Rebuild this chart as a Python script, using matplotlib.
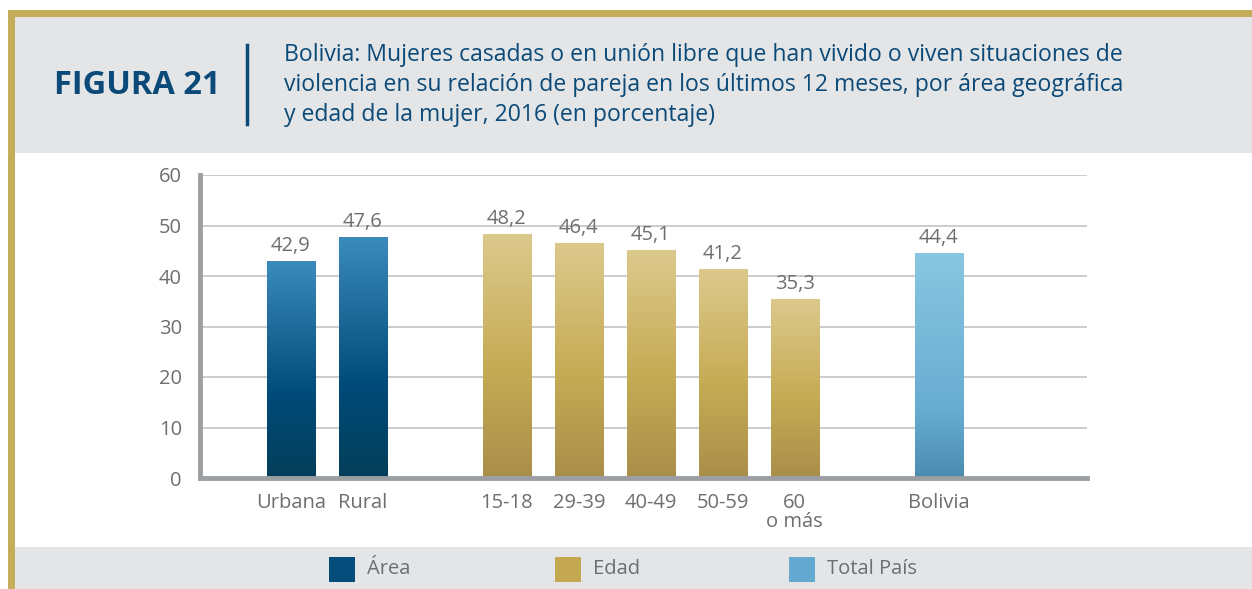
import numpy as np
import matplotlib
matplotlib.use('Agg')
import matplotlib.pyplot as plt
from matplotlib.patches import Rectangle
from matplotlib.colors import LinearSegmentedColormap

plt.rcParams['font.family'] = ['Open Sans', 'DejaVu Sans']

# data
labels = ['Urbana', 'Rural', '15-18', '29-39', '40-49', '50-59', '60\no más', 'Bolivia']
values = [42.9, 47.6, 48.2, 46.4, 45.1, 41.2, 35.3, 44.4]
groups = ['area', 'area', 'edad', 'edad', 'edad', 'edad', 'edad', 'total']
positions = [0, 1, 3, 4, 5, 6, 7, 9]

# gradients (top -> bottom)
grads = {
    'area': LinearSegmentedColormap.from_list('a', [(0, '#3b8bbd'), (0.62, '#004a78'), (1, '#043f5a')]),
    'edad': LinearSegmentedColormap.from_list('e', [(0, '#dcc98c'), (0.55, '#c6ab55'), (1, '#a98e4a')]),
    'total': LinearSegmentedColormap.from_list('t', [(0, '#89c7e0'), (0.7, '#68acd2'), (1, '#4b8cb0')]),
}
legend_items = [('Área', '#044c7a'), ('Edad', '#c4a851'), ('Total País', '#64aad0')]

gray_txt = '#6d6e70'
blue = '#0b4a78'
gold = '#c5ae5a'
panel = '#e4e5e7'

fig = plt.figure(figsize=(12.52, 5.89), dpi=100)
W, H = 1252.0, 589.0

def box(x0, y0, x1, y1, color):
    fig.add_artist(Rectangle((x0 / W, 1 - y1 / H), (x1 - x0) / W, (y1 - y0) / H,
                             transform=fig.transFigure, color=color, lw=0, zorder=0))

# frame and panels
box(15, 17, 1252, 153, panel)
box(15, 547, 1252, 589, panel)
box(8, 10, 1252, 17, gold)
box(8, 10, 15, 589, gold)

# header
fig.text(54 / W, 1 - 86 / H, 'FIGURA 21', fontsize=23.5, fontweight='bold', color=blue, va='center')
fig.add_artist(plt.Line2D([247 / W, 247 / W], [1 - 45 / H, 1 - 124 / H], color=blue, lw=2.5))
fig.text(284 / W, 1 - 85 / H,
         'Bolivia: Mujeres casadas o en unión libre que han vivido o viven situaciones de\n'
         'violencia en su relación de pareja en los últimos 12 meses, por área geográfica\n'
         'y edad de la mujer, 2016 (en porcentaje)',
         fontsize=16.6, color=blue, va='center', linespacing=1.33)

# axes
ax = fig.add_axes([200 / W, 1 - 478 / H, (1087 - 200) / W, (478 - 175) / H])
ax.set_facecolor('none')
width = 0.667
bars = ax.bar(positions, values, width=width, color='none', zorder=2)
grad = np.linspace(0, 1, 256).reshape(-1, 1)
for b, g in zip(bars, groups):
    x0 = b.get_x()
    ax.imshow(grad, cmap=grads[g], aspect='auto', zorder=2,
              extent=[x0, x0 + b.get_width(), 0, b.get_height()], origin='upper')
for p, v in zip(positions, values):
    ax.annotate(f'{v:.1f}'.replace('.', ','), (p, v), xytext=(0, 4), textcoords='offset points',
                ha='center', va='bottom', fontsize=14.5, color=gray_txt)

ax.set_xlim(-1.264, 11.06)
ax.set_ylim(0, 60)
ax.set_yticks(range(0, 61, 10))
ax.set_xticks(positions)
ax.set_xticklabels(labels, linespacing=0.9)
ax.grid(axis='y', color='#c8c8c8', lw=1.3, zorder=0)
ax.set_axisbelow(True)
ax.tick_params(length=0, labelsize=14.5, labelcolor=gray_txt)
ax.tick_params(axis='y', pad=13)
ax.tick_params(axis='x', pad=11)
for s in ['top', 'right']:
    ax.spines[s].set_visible(False)
for s in ['left', 'bottom']:
    ax.spines[s].set_color('#9c9fa2')
    ax.spines[s].set_linewidth(3.5)

# legend
for (name, col), lx in zip(legend_items, [329, 555, 789]):
    box(lx, 557, lx + 26, 582, col)
    fig.text((lx + 38) / W, 1 - 569 / H, name, fontsize=14.5, color=gray_txt, va='center')

fig.savefig('out.png', dpi=100)
